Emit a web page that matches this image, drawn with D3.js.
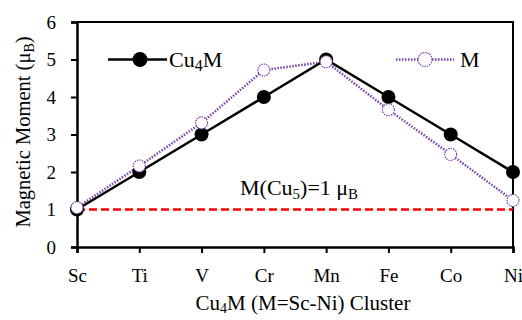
<!DOCTYPE html>
<html>
<head>
<meta charset="utf-8">
<script src="https://cdn.jsdelivr.net/npm/d3@7"></script>
<style>
  body { margin: 0; background: #fff; }
  text { font-family: "Liberation Serif", "Times New Roman", serif; fill: #000; }
</style>
</head>
<body>
<svg id="chart"></svg>
<script>
const elements = ["Sc", "Ti", "V", "Cr", "Mn", "Fe", "Co", "Ni"];
const cu4mMoment = [1, 2, 3, 4, 5, 4, 3, 2];
const mMoment = [1.05, 2.16, 3.31, 4.72, 4.94, 3.66, 2.47, 1.24];
const yTicks = [0, 1, 2, 3, 4, 5, 6];
const cu5Moment = 1;

const WIDTH = 522, HEIGHT = 320;
const margin = { left: 77, right: 9, top: 22, bottom: 73 };

const svg = d3.select("#chart")
  .attr("width", WIDTH)
  .attr("height", HEIGHT);

const x = d3.scalePoint()
  .domain(elements)
  .range([margin.left, WIDTH - margin.right]);

const y = d3.scaleLinear()
  .domain([0, 6])
  .range([HEIGHT - margin.bottom, margin.top]);

// frame (top + right)
svg.append("path")
  .attr("d", `M${margin.left},${margin.top}H${WIDTH - margin.right}V${HEIGHT - margin.bottom}`)
  .style("fill", "none")
  .style("stroke", "#000")
  .style("stroke-width", 2);

// axes
const xAxis = svg.append("g")
  .attr("transform", `translate(0,${HEIGHT - margin.bottom})`)
  .call(d3.axisBottom(x).tickSize(6).tickPadding(16));

const yAxis = svg.append("g")
  .attr("transform", `translate(${margin.left},0)`)
  .call(d3.axisLeft(y).tickValues(yTicks).tickFormat(d3.format("d")).tickSize(6).tickPadding(15));

[xAxis, yAxis].forEach((ax) => {
  ax.select(".domain").style("stroke-width", 2.5);
  ax.selectAll(".tick line").style("stroke-width", 2);
  ax.selectAll(".tick text")
    .style("font-size", "19px")
    .style("font-family", "'Liberation Serif', serif");
});

// reference line
svg.append("line")
  .attr("x1", margin.left)
  .attr("x2", WIDTH - margin.right)
  .attr("y1", y(cu5Moment))
  .attr("y2", y(cu5Moment))
  .style("stroke", "#ff0000")
  .style("stroke-width", 2.5)
  .style("stroke-dasharray", "8,4");

const line = d3.line()
  .x((d, i) => x(elements[i]))
  .y(d => y(d));

// M series (dotted)
svg.append("path")
  .datum(mMoment)
  .attr("d", line)
  .style("fill", "none")
  .style("stroke", "#7a3fa6")
  .style("stroke-width", 2.5)
  .style("stroke-dasharray", "1.5,1.5");

// Cu4M series
svg.append("path")
  .datum(cu4mMoment)
  .attr("d", line)
  .style("fill", "none")
  .style("stroke", "#000")
  .style("stroke-width", 2.5);

svg.selectAll(".cu4m")
  .data(cu4mMoment)
  .enter().append("circle")
  .attr("class", "cu4m")
  .attr("cx", (d, i) => x(elements[i]))
  .attr("cy", d => y(d))
  .attr("r", 7)
  .style("fill", "#000");

svg.selectAll(".mpt")
  .data(mMoment)
  .enter().append("circle")
  .attr("class", "mpt")
  .attr("cx", (d, i) => x(elements[i]))
  .attr("cy", d => y(d))
  .attr("r", 6)
  .style("fill", "#fff")
  .style("stroke", "#7a3fa6")
  .style("stroke-width", 1.2)
  .style("stroke-dasharray", "1.5,1");

// legend
const legY = y(5);
svg.append("line")
  .attr("x1", 108).attr("x2", 167)
  .attr("y1", legY).attr("y2", legY)
  .style("stroke", "#000").style("stroke-width", 2.5);
svg.append("circle")
  .attr("cx", 140).attr("cy", legY).attr("r", 7.5)
  .style("fill", "#000");
const t1 = svg.append("text")
  .attr("x", 169).attr("y", legY + 7)
  .style("font-size", "22px");
t1.append("tspan").text("Cu");
t1.append("tspan").attr("dy", 4).style("font-size", "16px").text("4");
t1.append("tspan").attr("dy", -4).text("M");

svg.append("line")
  .attr("x1", 396).attr("x2", 454)
  .attr("y1", legY).attr("y2", legY)
  .style("stroke", "#7a3fa6").style("stroke-width", 2.5)
  .style("stroke-dasharray", "1.5,1.5");
svg.append("circle")
  .attr("cx", 425).attr("cy", legY).attr("r", 7)
  .style("fill", "#fff")
  .style("stroke", "#7a3fa6")
  .style("stroke-width", 1.2)
  .style("stroke-dasharray", "1.5,1");
svg.append("text")
  .attr("x", 460).attr("y", legY + 7)
  .style("font-size", "22px")
  .text("M");

// annotation
const ann = svg.append("text")
  .attr("x", 240).attr("y", 195)
  .style("font-size", "22px");
ann.append("tspan").text("M(Cu");
ann.append("tspan").attr("dy", 4).style("font-size", "15px").text("5");
ann.append("tspan").attr("dy", -4).text(")=1 μ");
ann.append("tspan").attr("dy", 4).style("font-size", "15px").text("B");

// axis titles
const xt = svg.append("text")
  .attr("x", 303)
  .attr("y", 310)
  .attr("text-anchor", "middle")
  .style("font-size", "21px");
xt.append("tspan").text("Cu");
xt.append("tspan").attr("dy", 3).style("font-size", "14px").text("4");
xt.append("tspan").attr("dy", -3).text("M (M=Sc-Ni) Cluster");

const yt = svg.append("text")
  .attr("transform", "translate(30,132) rotate(-90)")
  .attr("text-anchor", "middle")
  .style("font-size", "20.5px");
yt.append("tspan").text("Magnetic Moment (μ");
yt.append("tspan").attr("dy", 4).style("font-size", "14px").text("B");
yt.append("tspan").attr("dy", -4).text(")");
</script>
</body>
</html>
